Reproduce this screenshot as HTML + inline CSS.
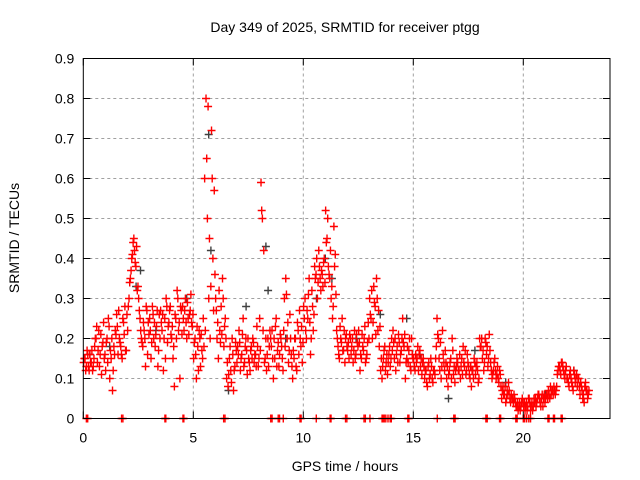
<!DOCTYPE html>
<html><head><meta charset="utf-8"><style>
body{margin:0;background:#fff}
svg{display:block;font-family:"Liberation Sans",sans-serif}
</style></head><body>
<svg id="chart" width="640" height="480" viewBox="0 0 640 480" xmlns="http://www.w3.org/2000/svg">
<rect width="640" height="480" fill="#fff"/>
<g id="grid"></g>
<g id="marks"></g>
<g id="axes"></g>
<text x="345" y="32" text-anchor="middle" font-size="14" fill="#000">Day 349 of 2025, SRMTID for receiver ptgg</text>
<text x="345" y="471" text-anchor="middle" font-size="14" fill="#000">GPS time / hours</text>
<text transform="translate(19,238) rotate(-90)" text-anchor="middle" font-size="14" fill="#000">SRMTID / TECUs</text>
</svg>
<script>
const xTicks=[0,5,10,15,20];
const yTicks=[0,0.1,0.2,0.3,0.4,0.5,0.6,0.7,0.8,0.9];
const yTickLabels=["0","0.1","0.2","0.3","0.4","0.5","0.6","0.7","0.8","0.9"];
const redSlots=[
[0.14,0.15,0.13,0.16,0.12,0.14,0.17,0.13],
[0.18,0.2,0.14,0.22,0.16,0.11,0.19,0.15],
[0.12,0.2,0.25,0.1,0.15,0.07,0.18,0.22],
[0.26,0.16,0.2,0.18,0.15,0.24,0.28,0.17],
[0.22,0.3,0.35,0.4,0.44,0.42,0.38,0.32],
[0.3,0.25,0.2,0.18,0.22,0.13,0.27,0.24],
[0.25,0.15,0.28,0.2,0.18,0.23,0.13,0.26],
[0.27,0.22,0.12,0.25,0.3,0.19,0.24,0.28],
[0.2,0.15,0.08,0.25,0.32,0.22,0.1,0.27],
[0.28,0.22,0.3,0.2,0.25,0.26,0.31,0.23],
[0.15,0.2,0.1,0.18,0.22,0.13,0.17,0.25],
[0.6,0.8,0.5,0.3,0.2,0.72,0.4,0.57],
[0.3,0.2,0.15,0.22,0.28,0.35,0.18,0.25],
[0.1,0.08,0.15,0.12,0.2,0.07,0.13,0.17],
[0.18,0.22,0.12,0.16,0.25,0.14,0.2,0.11],
[0.15,0.12,0.18,0.2,0.14,0.16,0.23,0.13],
[0.25,0.59,0.5,0.42,0.15,0.12,0.2,0.18],
[0.2,0.22,0.1,0.15,0.25,0.17,0.13,0.21],
[0.18,0.12,0.3,0.35,0.2,0.14,0.26,0.16],
[0.1,0.15,0.2,0.12,0.22,0.27,0.18,0.14],
[0.28,0.3,0.2,0.25,0.35,0.16,0.32,0.22],
[0.38,0.36,0.3,0.42,0.35,0.37,0.33,0.4],
[0.52,0.45,0.38,0.35,0.3,0.25,0.48,0.41],
[0.22,0.18,0.15,0.2,0.25,0.17,0.14,0.21],
[0.17,0.15,0.2,0.18,0.14,0.22,0.16,0.19],
[0.22,0.12,0.15,0.18,0.2,0.14,0.16,0.24],
[0.3,0.25,0.2,0.33,0.28,0.35,0.22,0.18],
[0.12,0.1,0.15,0.18,0.14,0.11,0.16,0.13],
[0.2,0.22,0.15,0.12,0.18,0.21,0.14,0.17],
[0.25,0.18,0.1,0.15,0.14,0.2,0.12,0.16],
[0.15,0.12,0.14,0.18,0.16,0.13,0.11,0.15],
[0.1,0.12,0.08,0.14,0.11,0.13,0.09,0.12],
[0.15,0.25,0.2,0.12,0.1,0.22,0.14,0.17],
[0.1,0.08,0.12,0.15,0.2,0.11,0.09,0.13],
[0.14,0.12,0.1,0.15,0.18,0.13,0.11,0.16],
[0.13,0.1,0.08,0.12,0.15,0.11,0.14,0.09],
[0.2,0.18,0.15,0.12,0.2,0.16,0.13,0.21],
[0.14,0.1,0.12,0.15,0.1,0.13,0.09,0.11],
[0.05,0.08,0.06,0.04,0.07,0.09,0.05,0.06],
[0.05,0.06,0.04,0.03,0.02,0.04,0.03,0.05],
[0.03,0.02,0.04,0.03,0.05,0.02,0.04,0.03],
[0.04,0.03,0.05,0.06,0.04,0.05,0.03,0.06],
[0.05,0.06,0.07,0.05,0.06,0.07,0.08,0.06],
[0.08,0.12,0.13,0.11,0.14,0.12,0.1,0.13],
[0.1,0.08,0.12,0.09,0.07,0.11,0.1,0.08],
[0.1,0.06,0.08,0.05,0.04,0.09,0.07,0.06]
];
const redSlots2=[
[0.15,0.12,0.17,0.13,0.16,0.14,0.12,0.15],
[0.2,0.23,0.17,0.13,0.21,0.18,0.24,0.16],
[0.19,0.14,0.23,0.17,0.2,0.12,0.16,0.21],
[0.23,0.27,0.19,0.16,0.25,0.21,0.17,0.26],
[0.28,0.34,0.37,0.41,0.45,0.39,0.43,0.33],
[0.27,0.22,0.19,0.24,0.2,0.28,0.16,0.21],
[0.22,0.19,0.26,0.24,0.21,0.27,0.17,0.2],
[0.24,0.26,0.2,0.15,0.28,0.23,0.27,0.21],
[0.23,0.18,0.26,0.2,0.3,0.24,0.28,0.21],
[0.25,0.27,0.24,0.29,0.21,0.27,0.24,0.26],
[0.19,0.16,0.23,0.12,0.2,0.21,0.15,0.18],
[0.22,0.65,0.78,0.45,0.33,0.6,0.27,0.36],
[0.27,0.24,0.32,0.19,0.21,0.3,0.23,0.2],
[0.14,0.11,0.18,0.09,0.16,0.12,0.19,0.14],
[0.16,0.19,0.15,0.21,0.13,0.18,0.17,0.2],
[0.14,0.17,0.15,0.19,0.16,0.13,0.18,0.15],
[0.17,0.52,0.22,0.14,0.2,0.16,0.13,0.22],
[0.18,0.15,0.2,0.23,0.13,0.19,0.16,0.2],
[0.15,0.22,0.18,0.31,0.24,0.17,0.2,0.13],
[0.17,0.2,0.13,0.24,0.16,0.2,0.23,0.19],
[0.25,0.22,0.27,0.31,0.24,0.2,0.28,0.26],
[0.35,0.4,0.34,0.38,0.32,0.36,0.39,0.34],
[0.44,0.5,0.36,0.42,0.33,0.28,0.38,0.31],
[0.2,0.16,0.23,0.19,0.17,0.22,0.2,0.18],
[0.19,0.21,0.16,0.2,0.17,0.15,0.21,0.18],
[0.19,0.16,0.21,0.17,0.23,0.15,0.19,0.2],
[0.26,0.32,0.24,0.29,0.21,0.3,0.27,0.23],
[0.15,0.13,0.17,0.12,0.16,0.14,0.18,0.15],
[0.17,0.19,0.2,0.16,0.14,0.19,0.16,0.2],
[0.19,0.21,0.14,0.18,0.17,0.13,0.2,0.15],
[0.13,0.16,0.15,0.12,0.17,0.15,0.14,0.13],
[0.12,0.09,0.13,0.1,0.15,0.1,0.12,0.11],
[0.18,0.21,0.15,0.19,0.13,0.16,0.12,0.14],
[0.13,0.11,0.14,0.1,0.17,0.13,0.12,0.15],
[0.12,0.16,0.13,0.11,0.14,0.17,0.12,0.14],
[0.11,0.13,0.12,0.1,0.14,0.13,0.12,0.1],
[0.18,0.2,0.17,0.14,0.19,0.18,0.15,0.17],
[0.12,0.11,0.14,0.12,0.11,0.1,0.12,0.08],
[0.07,0.06,0.08,0.05,0.06,0.07,0.04,0.05],
[0.04,0.05,0.03,0.04,0.03,0.02,0.04,0.04],
[0.04,0.03,0.02,0.05,0.04,0.03,0.02,0.05],
[0.05,0.04,0.06,0.05,0.03,0.06,0.05,0.04],
[0.06,0.05,0.06,0.08,0.07,0.06,0.07,0.07],
[0.11,0.13,0.12,0.14,0.13,0.11,0.12,0.1],
[0.09,0.11,0.1,0.08,0.12,0.09,0.11,0.1],
[0.08,0.09,0.07,0.06,0.08,0.07,0.05,0.07]
];
const greyTimes=[0.3,1.2,2.4,2.6,3.3,4.7,5.7,5.8,6.6,7.4,8.3,8.4,9.2,10.6,11.0,11.3,12.4,13.5,14.7,15.3,16.6,17.8,19.2,21.0,22.3];
const greyValues=[0.16,0.18,0.33,0.37,0.22,0.3,0.71,0.42,0.07,0.28,0.43,0.32,0.2,0.3,0.4,0.35,0.2,0.26,0.25,0.16,0.05,0.17,0.09,0.06,0.12];
const zeroTimes=[0.14,0.2,1.74,1.8,3.71,3.75,4.53,4.57,6.38,6.44,8.52,8.58,8.86,8.92,9.09,9.85,9.9,10.59,11.22,11.26,11.92,11.98,12.76,12.82,13.03,13.58,13.63,13.68,13.75,13.85,13.95,14.0,14.75,14.8,16.09,16.84,16.9,18.3,18.36,18.92,18.97,19.66,19.72,20.0,20.06,20.15,20.25,20.33,21.12,21.17,21.37,21.42,21.72,21.77];

const X0=83.3,X1=610,Y0=418.5,Y1=58.5,XMAX=24,YMAX=0.9;
const sx=t=>X0+22*t;
const sy=v=>Y0-(Y0-Y1)*v/YMAX;
const NS="http://www.w3.org/2000/svg";
const grid=document.getElementById('grid'),marks=document.getElementById('marks'),axes=document.getElementById('axes');
function mk(tag,attrs,parent){const e=document.createElementNS(NS,tag);for(const k in attrs)e.setAttribute(k,attrs[k]);parent.appendChild(e);return e;}
yTicks.forEach((v,i)=>{
  if(i>0&&i<yTicks.length-1){
    const g=mk('line',{x1:X0,x2:X1,y1:sy(v),y2:sy(v),stroke:'#a0a0a0','stroke-dasharray':'3,3'},grid);
    
    
  }
  const t=mk('line',{x1:X0,x2:X0+7,y1:sy(v),y2:sy(v),stroke:'#000'},axes);
  
  
  const t2=mk('line',{x1:X1-7,x2:X1,y1:sy(v),y2:sy(v),stroke:'#000'},axes);
  
  
  const l=mk('text',{x:X0-9,y:sy(v)+5,'text-anchor':'end','font-size':14,fill:'#000'},axes);
  l.textContent=yTickLabels[i];
  
  
});
xTicks.forEach(v=>{
  if(v>0){
    const g=mk('line',{x1:sx(v),x2:sx(v),y1:Y0,y2:Y1,stroke:'#a0a0a0','stroke-dasharray':'3,3'},grid);
    
    
  }
  const t=mk('line',{x1:sx(v),x2:sx(v),y1:Y0,y2:Y0-7,stroke:'#000'},axes);
  
  
  const t2=mk('line',{x1:sx(v),x2:sx(v),y1:Y1,y2:Y1+7,stroke:'#000'},axes);
  
  
  const l=mk('text',{x:sx(v),y:Y0+24,'text-anchor':'middle','font-size':14,fill:'#000'},axes);
  l.textContent=String(v);
  
  
});
const frame=mk('rect',{x:X0,y:Y1,width:X1-X0,height:Y0-Y1,fill:'none',stroke:'#000','stroke-width':1},axes);


function plus(t,v,col){
  const x=sx(t),y=sy(v);
  return mk('path',{d:`M${x-4},${y}H${x+4}M${x},${y-4}V${y+4}`,stroke:col,'stroke-width':1.4,fill:'none'},marks);
}
greyTimes.forEach((t,i)=>{
  const p=plus(t,greyValues[i],'#404040');
  
  
});
[redSlots,redSlots2].forEach((slots,s)=>{
  slots.forEach((vals,k)=>{
    vals.forEach((v,i)=>{
      const t=k/2+(i+0.25+0.5*s)/(2*vals.length);
      const p=plus(t,v,'#ff0000');
      
      
    });
  });
});
zeroTimes.forEach(t=>{
  const p=plus(t,0,'#ff0000');
  
  
});
</script>
</body></html>
